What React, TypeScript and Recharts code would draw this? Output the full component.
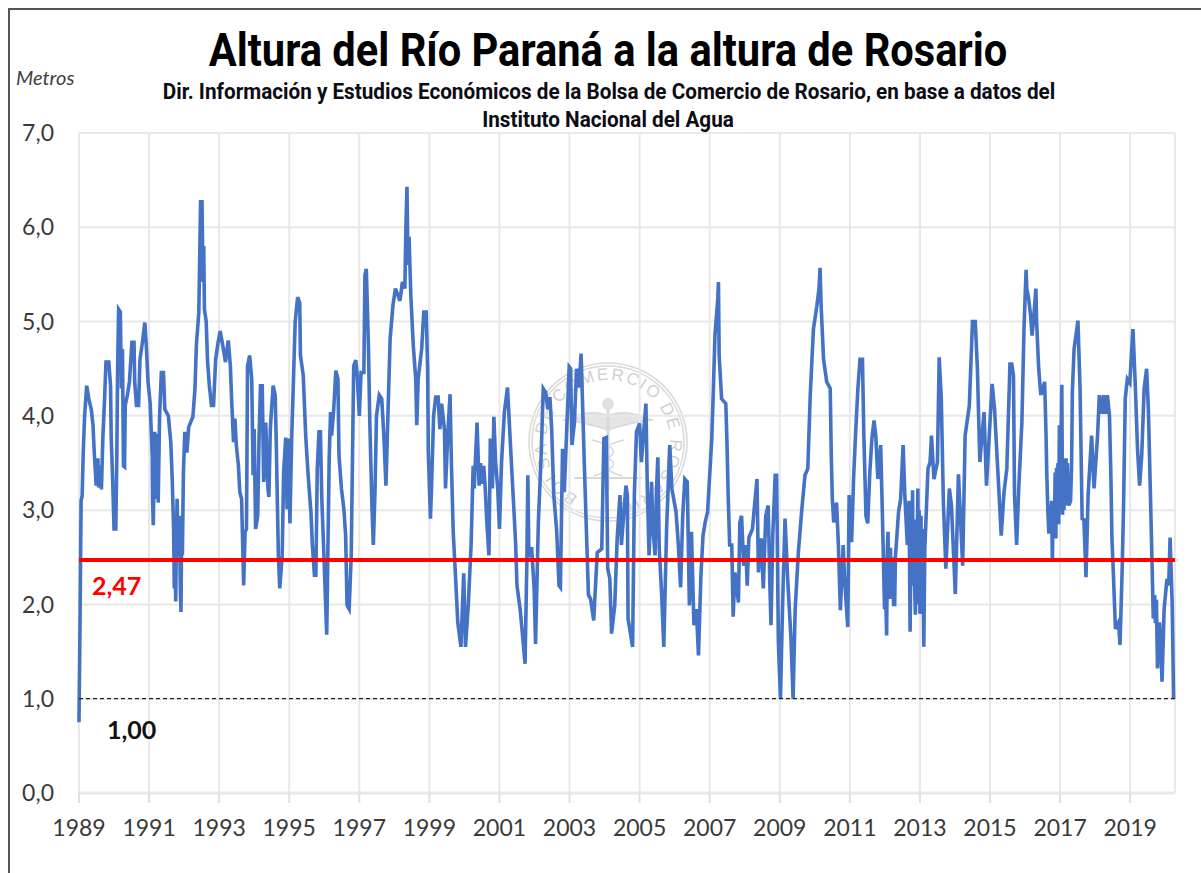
import React from "react";
import { LineChart, Line, XAxis, YAxis, CartesianGrid, ReferenceLine } from "recharts";

// Lecturas [año decimal, altura en metros] tomadas del gráfico, por tramos
const tramo1989: [number, number][] = [
  [1989.0, 0.75], [1989.03, 1.85], [1989.06, 3.1], [1989.09, 3.15], [1989.12, 3.6], [1989.16, 4.0], [1989.22, 4.32], [1989.28, 4.18], [1989.35, 4.07], [1989.4, 3.9], [1989.43, 3.65], [1989.49, 3.26],
  [1989.54, 3.55], [1989.56, 3.24], [1989.62, 3.47], [1989.64, 3.22], [1989.68, 3.76], [1989.73, 4.18], [1989.77, 4.57], [1989.85, 4.57], [1989.9, 4.32], [1989.92, 3.76], [1989.96, 3.33],
  [1990.0, 2.8], [1990.05, 2.8], [1990.08, 3.58], [1990.1, 4.43], [1990.13, 5.13], [1990.18, 5.1], [1990.21, 4.29], [1990.24, 4.71], [1990.27, 3.47], [1990.3, 3.46], [1990.32, 4.11], [1990.38, 4.22], [1990.44, 4.36], [1990.51, 4.78], [1990.57, 4.78], [1990.59, 4.36], [1990.64, 4.11], [1990.7, 4.11], [1990.74, 4.6], [1990.81, 4.78], [1990.88, 4.99], [1990.92, 4.75], [1990.97, 4.36],
  [1991.03, 4.14], [1991.09, 3.58], [1991.1, 3.12], [1991.12, 2.84], [1991.16, 3.83], [1991.19, 3.12], [1991.24, 3.81], [1991.26, 3.08], [1991.3, 4.0], [1991.35, 4.46], [1991.41, 4.46], [1991.45, 4.07], [1991.55, 4.0], [1991.62, 3.72], [1991.66, 3.33], [1991.7, 2.8], [1991.72, 2.17], [1991.74, 2.9], [1991.76, 2.03], [1991.78, 2.7], [1991.8, 3.12], [1991.83, 2.52], [1991.87, 2.94], [1991.89, 2.2], [1991.91, 1.92], [1991.93, 2.8], [1991.95, 2.52], [1991.98, 3.4],
  [1992.02, 3.83], [1992.08, 3.61], [1992.13, 3.88], [1992.25, 3.99], [1992.31, 4.29], [1992.35, 4.75], [1992.42, 5.1], [1992.47, 6.27], [1992.51, 6.27], [1992.54, 5.42], [1992.56, 5.8], [1992.58, 5.13], [1992.63, 5.0], [1992.67, 4.57], [1992.72, 4.32], [1992.78, 4.11], [1992.84, 4.11], [1992.9, 4.6], [1992.97, 4.78],
];

const tramo1993: [number, number][] = [
  [1993.03, 4.9], [1993.12, 4.71], [1993.18, 4.57], [1993.26, 4.8], [1993.32, 4.53], [1993.36, 4.14], [1993.41, 3.72], [1993.45, 3.97], [1993.49, 3.69], [1993.55, 3.47], [1993.59, 3.19], [1993.64, 3.12], [1993.7, 2.2], [1993.74, 2.77], [1993.78, 2.8], [1993.81, 4.53], [1993.87, 4.64], [1993.93, 4.39], [1993.97, 3.37],
  [1994.0, 3.86], [1994.04, 2.8], [1994.1, 2.94], [1994.14, 3.79], [1994.18, 4.32], [1994.23, 4.32], [1994.27, 3.3], [1994.33, 3.93], [1994.39, 3.23], [1994.42, 3.14], [1994.46, 3.86], [1994.54, 4.32], [1994.6, 4.22], [1994.63, 3.72], [1994.69, 2.52], [1994.73, 2.17], [1994.8, 2.52], [1994.84, 3.4], [1994.9, 3.77], [1994.94, 3.01], [1994.98, 3.76],
  [1995.02, 2.86], [1995.07, 3.76], [1995.11, 4.25], [1995.17, 5.0], [1995.24, 5.26], [1995.3, 5.2], [1995.32, 4.64], [1995.4, 4.43], [1995.47, 3.79], [1995.54, 3.37], [1995.59, 3.12], [1995.62, 2.98], [1995.66, 2.63], [1995.72, 2.31], [1995.76, 2.31], [1995.8, 3.44], [1995.85, 3.83], [1995.89, 3.83], [1995.93, 3.12], [1995.99, 2.52],
  [1996.04, 1.99], [1996.07, 1.68], [1996.12, 3.01], [1996.14, 3.54], [1996.18, 4.04], [1996.21, 3.79], [1996.27, 4.07], [1996.33, 4.48], [1996.39, 4.39], [1996.42, 3.58], [1996.49, 3.23], [1996.56, 3.01], [1996.61, 2.73], [1996.65, 1.99], [1996.71, 1.95], [1996.77, 2.52], [1996.8, 3.4], [1996.84, 4.53], [1996.9, 4.59], [1996.94, 4.43],
  [1997.0, 4.0], [1997.05, 4.46], [1997.13, 4.46], [1997.16, 5.49], [1997.2, 5.56], [1997.26, 4.75], [1997.3, 3.93], [1997.36, 3.05], [1997.4, 2.63], [1997.45, 3.23], [1997.49, 4.0], [1997.57, 4.22], [1997.64, 4.18], [1997.7, 3.79], [1997.76, 3.26], [1997.83, 4.18], [1997.88, 4.82], [1997.96, 5.17],
];

const tramo1998: [number, number][] = [
  [1998.03, 5.35], [1998.1, 5.28], [1998.16, 5.22], [1998.23, 5.42], [1998.3, 5.35], [1998.33, 6.0], [1998.36, 6.43], [1998.39, 5.6], [1998.42, 5.9], [1998.47, 5.28], [1998.54, 4.75], [1998.61, 4.39], [1998.64, 3.9], [1998.68, 4.39], [1998.78, 4.71], [1998.84, 5.1], [1998.91, 5.1], [1998.95, 4.5], [1998.97, 3.61],
  [1999.03, 2.91], [1999.06, 3.23], [1999.12, 4.0], [1999.18, 4.2], [1999.25, 4.2], [1999.3, 3.86], [1999.35, 4.13], [1999.43, 3.86], [1999.46, 3.23], [1999.52, 3.76], [1999.59, 4.23], [1999.63, 3.47], [1999.68, 2.77], [1999.75, 2.27], [1999.81, 1.81], [1999.9, 1.55], [1999.98, 2.33],
  [2000.03, 1.55], [2000.11, 1.99], [2000.19, 2.63], [2000.25, 3.47], [2000.28, 3.23], [2000.36, 3.93], [2000.42, 3.26], [2000.46, 3.5], [2000.5, 3.28], [2000.55, 3.47], [2000.59, 3.26], [2000.64, 2.87], [2000.7, 2.52], [2000.74, 3.76], [2000.8, 3.23], [2000.84, 3.99], [2000.89, 3.51], [2000.95, 3.23],
  [2001.0, 2.8], [2001.06, 3.51], [2001.14, 4.04], [2001.23, 4.3], [2001.3, 3.79], [2001.39, 3.16], [2001.46, 2.66], [2001.5, 2.2], [2001.59, 1.95], [2001.65, 1.71], [2001.73, 1.37], [2001.78, 2.4], [2001.81, 3.37], [2001.84, 2.5], [2001.87, 2.59], [2001.92, 2.59], [2001.99, 2.17],
  [2002.03, 1.58], [2002.11, 2.87], [2002.19, 3.58], [2002.25, 4.29], [2002.32, 4.25], [2002.38, 4.07], [2002.44, 4.2], [2002.49, 3.86], [2002.55, 3.16], [2002.63, 2.8], [2002.7, 2.2], [2002.74, 2.18], [2002.8, 3.65], [2002.85, 3.19], [2002.91, 3.76], [2002.99, 4.52],
];

const tramo2003: [number, number][] = [
  [2003.03, 4.5], [2003.07, 3.69], [2003.14, 3.93], [2003.2, 4.5], [2003.27, 4.3], [2003.33, 4.66], [2003.37, 4.16], [2003.42, 3.51], [2003.48, 2.8], [2003.54, 2.1], [2003.6, 2.06], [2003.69, 1.83], [2003.79, 2.55], [2003.92, 2.59], [2003.98, 3.76],
  [2004.05, 3.77], [2004.09, 2.38], [2004.15, 2.27], [2004.2, 1.69], [2004.29, 1.99], [2004.36, 2.7], [2004.44, 3.16], [2004.48, 2.63], [2004.61, 3.26], [2004.65, 3.16], [2004.67, 1.85], [2004.8, 1.55], [2004.85, 3.16], [2004.91, 3.83],
  [2005.0, 3.92], [2005.05, 3.51], [2005.18, 4.13], [2005.22, 3.23], [2005.27, 2.52], [2005.34, 3.3], [2005.38, 2.8], [2005.44, 2.52], [2005.48, 3.2], [2005.52, 3.56], [2005.56, 2.59], [2005.63, 2.1], [2005.69, 1.55], [2005.77, 2.8], [2005.86, 3.69], [2005.92, 3.23],
  [2006.04, 2.98], [2006.1, 2.66], [2006.17, 2.18], [2006.23, 2.94], [2006.29, 3.33], [2006.36, 3.3], [2006.42, 1.99], [2006.48, 2.77], [2006.55, 1.78], [2006.62, 1.95], [2006.68, 1.46], [2006.75, 2.31], [2006.81, 2.73], [2006.87, 2.87], [2006.94, 2.98],
  [2007.0, 3.37], [2007.06, 3.76], [2007.1, 4.22], [2007.15, 4.85], [2007.23, 5.24], [2007.25, 5.42], [2007.27, 4.64], [2007.34, 4.18], [2007.46, 4.13], [2007.49, 3.76], [2007.53, 3.12], [2007.57, 2.63], [2007.63, 2.63], [2007.67, 1.87], [2007.72, 2.34], [2007.82, 2.02], [2007.86, 2.87], [2007.91, 2.94], [2007.97, 2.41],
];

const tramo2008: [number, number][] = [
  [2008.03, 2.63], [2008.07, 2.2], [2008.12, 2.71], [2008.22, 2.8], [2008.28, 3.05], [2008.35, 3.33], [2008.39, 2.34], [2008.47, 2.7], [2008.53, 2.17], [2008.6, 2.94], [2008.67, 3.05], [2008.72, 2.17], [2008.75, 1.78], [2008.8, 2.73], [2008.87, 3.37], [2008.91, 3.37], [2008.96, 1.6],
  [2009.02, 1.0], [2009.08, 1.99], [2009.15, 2.91], [2009.23, 2.24], [2009.32, 1.64], [2009.38, 1.0], [2009.44, 1.95], [2009.53, 2.55], [2009.63, 3.01], [2009.72, 3.37], [2009.8, 3.44], [2009.87, 4.22], [2009.96, 4.92],
  [2010.06, 5.17], [2010.12, 5.35], [2010.15, 5.57], [2010.18, 5.17], [2010.25, 4.6], [2010.34, 4.36], [2010.44, 4.29], [2010.47, 3.58], [2010.5, 3.12], [2010.54, 2.87], [2010.62, 3.08], [2010.67, 2.66], [2010.73, 1.94], [2010.81, 2.63], [2010.85, 2.27], [2010.94, 1.76], [2010.98, 3.16],
  [2011.05, 2.66], [2011.11, 3.37], [2011.17, 3.86], [2011.23, 4.29], [2011.29, 4.6], [2011.36, 4.6], [2011.4, 3.79], [2011.46, 2.94], [2011.51, 2.86], [2011.57, 3.4], [2011.63, 3.76], [2011.69, 3.95], [2011.74, 3.79], [2011.8, 3.33], [2011.88, 3.69], [2011.93, 2.94], [2011.99, 1.95],
  [2012.01, 2.5], [2012.03, 2.0], [2012.05, 1.67], [2012.07, 2.6], [2012.09, 2.77], [2012.11, 2.1], [2012.14, 2.06], [2012.16, 2.6], [2012.18, 2.1], [2012.2, 2.5], [2012.22, 2.38], [2012.25, 2.0], [2012.28, 2.0], [2012.3, 2.5], [2012.33, 2.66], [2012.39, 2.98], [2012.45, 3.12], [2012.52, 3.69], [2012.57, 3.16], [2012.64, 2.63], [2012.66, 2.7], [2012.69, 3.1], [2012.72, 1.71], [2012.75, 2.8], [2012.77, 2.2], [2012.79, 3.21], [2012.81, 2.2], [2012.83, 2.8], [2012.85, 2.2], [2012.87, 1.89], [2012.89, 2.9], [2012.91, 2.0], [2012.94, 3.23], [2012.96, 2.2], [2012.98, 3.0],
];

const tramo2013: [number, number][] = [
  [2013.0, 1.9], [2013.03, 2.94], [2013.05, 2.2], [2013.08, 2.8], [2013.11, 1.55], [2013.14, 2.6], [2013.17, 2.87], [2013.23, 3.44], [2013.29, 3.51], [2013.33, 3.79], [2013.4, 3.33], [2013.5, 3.51], [2013.55, 4.62], [2013.61, 4.18], [2013.67, 3.08], [2013.74, 2.38], [2013.84, 3.23], [2013.9, 3.05],
  [2014.01, 2.11], [2014.1, 3.38], [2014.22, 2.41], [2014.29, 3.79], [2014.41, 4.11], [2014.5, 5.0], [2014.58, 5.0], [2014.64, 4.5], [2014.71, 3.51], [2014.83, 4.04], [2014.9, 3.26], [2014.98, 3.8],
  [2015.06, 4.34], [2015.13, 4.07], [2015.19, 3.65], [2015.25, 3.23], [2015.32, 2.73], [2015.4, 3.19], [2015.48, 3.44], [2015.57, 4.55], [2015.62, 4.55], [2015.67, 4.43], [2015.7, 3.16], [2015.76, 2.63], [2015.82, 3.23], [2015.91, 3.93], [2015.97, 4.92],
  [2016.03, 5.55], [2016.05, 5.35], [2016.1, 5.25], [2016.16, 5.06], [2016.2, 4.85], [2016.26, 5.1], [2016.31, 5.35], [2016.33, 5.0], [2016.39, 4.5], [2016.45, 4.22], [2016.56, 4.36], [2016.6, 3.79], [2016.62, 3.4], [2016.65, 3.0], [2016.68, 2.75], [2016.7, 3.05], [2016.73, 2.8], [2016.76, 3.1], [2016.78, 2.45], [2016.8, 3.0], [2016.84, 2.9], [2016.86, 3.4], [2016.88, 2.7], [2016.9, 3.45], [2016.92, 2.85], [2016.94, 3.5], [2016.96, 2.85], [2016.98, 3.9],
  [2017.0, 3.0], [2017.02, 3.5], [2017.05, 4.33], [2017.07, 2.95], [2017.09, 3.55], [2017.11, 3.0], [2017.13, 3.5], [2017.15, 3.1], [2017.17, 3.55], [2017.19, 3.05], [2017.21, 3.5], [2017.23, 3.1], [2017.25, 3.05], [2017.3, 3.1], [2017.33, 3.5], [2017.35, 4.25], [2017.4, 4.71], [2017.51, 5.01], [2017.57, 4.29], [2017.63, 2.91], [2017.68, 2.9], [2017.74, 2.29], [2017.8, 3.16], [2017.9, 3.79], [2017.97, 3.23],
  [2018.07, 3.79], [2018.12, 4.22], [2018.15, 4.02], [2018.18, 4.2], [2018.21, 4.02], [2018.24, 4.22], [2018.27, 4.02], [2018.29, 4.2], [2018.32, 4.02], [2018.35, 4.22], [2018.41, 4.0], [2018.45, 3.37], [2018.48, 2.7], [2018.52, 2.34], [2018.58, 1.74], [2018.67, 1.81], [2018.71, 1.57], [2018.77, 2.34], [2018.81, 3.01], [2018.86, 4.18], [2018.92, 4.39], [2018.99, 4.35],
  [2019.08, 4.92], [2019.15, 4.29], [2019.21, 3.65], [2019.27, 3.26], [2019.33, 3.58], [2019.4, 4.29], [2019.47, 4.5], [2019.52, 4.07], [2019.57, 3.3], [2019.62, 2.52], [2019.66, 1.85], [2019.7, 2.1], [2019.72, 1.8], [2019.75, 2.05], [2019.78, 1.32], [2019.84, 1.81], [2019.88, 1.5], [2019.91, 1.18], [2019.97, 1.95],
  [2020.05, 2.27], [2020.1, 2.2], [2020.14, 2.71], [2020.2, 2.0], [2020.24, 1.0],
];

const anios = [1989, 1991, 1993, 1995, 1997, 1999, 2001, 2003, 2005, 2007, 2009, 2011, 2013, 2015, 2017, 2019];
const metros = [0, 1, 2, 3, 4, 5, 6, 7];

const media = 2.47;
const minimo = 1;

const data = [...tramo1989, ...tramo1993, ...tramo1998, ...tramo2003, ...tramo2008, ...tramo2013].map(([fecha, altura]) => ({ fecha, altura }));

const coma = (v: number) => v.toFixed(1).replace(".", ",");

const abs = (left: number, top: number): React.CSSProperties => ({
  position: "absolute",
  left,
  top,
  whiteSpace: "nowrap",
  lineHeight: 1,
});

// Sello de la Bolsa de fondo
const Sello = () => (
  <svg width={1201} height={873} style={{ position: "absolute", left: 0, top: 0 }}>
    <g fill="none" stroke="#d8d8d8" strokeWidth={1.5}>
      <circle cx={608} cy={442} r={79} />
      <circle cx={608} cy={442} r={76} />
      <path d="M564 420 Q592 408 608 416 Q624 408 652 420 Q624 424 608 430 Q592 424 564 420Z" fill="#e4e4e4" />
      <line x1={608} y1={400} x2={608} y2={490} strokeWidth={3} />
      <path d="M592 440 Q624 448 608 458 Q592 466 622 476" />
      <path d="M624 440 Q592 448 608 458 Q624 466 594 476" />
      <path d="M574 478 H642" strokeWidth={2} />
    </g>
    <circle cx={608} cy={404} r={6} fill="#e0e0e0" />
    <defs>
      <path id="arcoSello" d="M608 504 a62 62 0 1 1 0.1 0" />
    </defs>
    <text fontFamily="Liberation Sans" fontSize={17} fill="#d0d0d0" letterSpacing={2}>
      <textPath href="#arcoSello" startOffset="8%">BOLSA DE COMERCIO DE ROSARIO</textPath>
    </text>
  </svg>
);

const titulo: React.CSSProperties = { fontFamily: "Roboto", fontWeight: 700, color: "#000", transform: "translateX(-50%) scaleX(0.905)" };
const subtitulo: React.CSSProperties = { fontFamily: "Roboto", fontWeight: 700, fontSize: 22.5, color: "#0c0c14", transform: "translateX(-50%) scaleX(0.92)" };

export default function App() {
  return (
    <div style={{ position: "absolute", left: 0, top: 0, width: 1201, height: 873, overflow: "hidden", background: "#fff" }}>
      <div style={{ position: "absolute", left: 8, top: 8, width: 1193, height: 865, borderLeft: "2px solid #555", borderTop: "2px solid #555", boxSizing: "border-box" }} />
      <Sello />
      <div style={{ position: "absolute", left: 0, top: 0 }}>
        <LineChart width={1201} height={873} data={data} margin={{ top: 133, right: 26, bottom: 30, left: 0 }}>
          <CartesianGrid stroke="#e8e8e8" strokeWidth={2} />
          <XAxis
            dataKey="fecha"
            type="number"
            domain={[1989, 2020.28]}
            ticks={anios}
            interval={0}
            height={50}
            axisLine={{ stroke: "#e8e8e8", strokeWidth: 3 }}
            tickLine={{ stroke: "#e0e0e0", strokeWidth: 2 }}
            tickSize={10}
            tickMargin={17}
            tick={{ fontFamily: "Lato", fontSize: 23, fill: "#3a3a3a" }}
          />
          <YAxis
            type="number"
            domain={[0, 7]}
            ticks={metros}
            interval={0}
            width={79}
            axisLine={false}
            tickLine={false}
            tickSize={0}
            tickMargin={25}
            tickFormatter={coma}
            tick={{ fontFamily: "Lato", fontSize: 23, fill: "#3a3a3a" }}
          />
          <Line dataKey="altura" type="linear" stroke="#4472C4" strokeWidth={3.6} dot={false} isAnimationActive={false} />
          <ReferenceLine y={minimo} stroke="#222" strokeWidth={1.2} strokeDasharray="4 3" />
          <ReferenceLine y={media} stroke="#ff0000" strokeWidth={4} />
        </LineChart>
      </div>
      <div style={{ ...abs(608, 27), ...titulo, fontSize: 46 }}>Altura del Río Paraná a la altura de Rosario</div>
      <div style={{ ...abs(609, 80), ...subtitulo }}>
        Dir. Información y Estudios Económicos de la Bolsa de Comercio de Rosario, en base a datos del
      </div>
      <div style={{ ...abs(608, 108), ...subtitulo }}>Instituto Nacional del Agua</div>
      <div style={{ ...abs(16, 67), fontFamily: "Lato", fontStyle: "italic", fontSize: 20, color: "#404040" }}>Metros</div>
      <div style={{ ...abs(92, 573), fontFamily: "Lato", fontWeight: 700, fontSize: 25, color: "#ff0000" }}>2,47</div>
      <div style={{ ...abs(107, 717), fontFamily: "Lato", fontWeight: 700, fontSize: 25, color: "#111" }}>1,00</div>
    </div>
  );
}
